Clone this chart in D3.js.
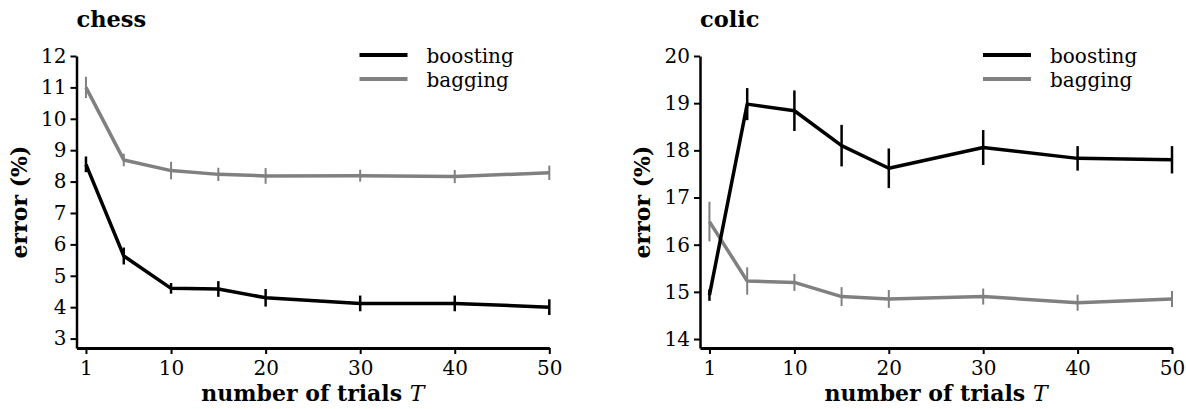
<!DOCTYPE html>
<html>
<head>
<meta charset="utf-8">
<script src="https://cdn.jsdelivr.net/npm/d3@7"></script>
<style>
  body { margin: 0; background: #fff; }
  svg { display: block; }
  text { font-family: 'DejaVu Serif', serif; fill: #000; }
  .domain, .tick line { stroke: #000; }
</style>
</head>
<body>
<script>
// data
const trials = [1, 5, 10, 15, 20, 30, 40, 50];
const xTicks = [1, 10, 20, 30, 40, 50];

const chessBoosting = [8.55, 5.63, 4.60, 4.58, 4.30, 4.12, 4.12, 4.00];
const chessBoostingErr = [0.25, 0.27, 0.17, 0.25, 0.28, 0.25, 0.25, 0.25];
const chessBagging = [11.0, 8.69, 8.35, 8.23, 8.18, 8.19, 8.16, 8.28];
const chessBaggingErr = [0.34, 0.2, 0.28, 0.21, 0.25, 0.19, 0.21, 0.23];
const chessYTicks = [3, 4, 5, 6, 7, 8, 9, 10, 11, 12];

const colicBoosting = [14.93, 18.98, 18.84, 18.10, 17.62, 18.06, 17.83, 17.80];
const colicBoostingErr = [0.12, 0.34, 0.43, 0.44, 0.42, 0.37, 0.26, 0.29];
const colicBagging = [16.49, 15.23, 15.20, 14.90, 14.85, 14.90, 14.77, 14.85];
const colicBaggingErr = [0.42, 0.29, 0.18, 0.2, 0.19, 0.17, 0.17, 0.17];
const colicYTicks = [14, 15, 16, 17, 18, 19, 20];

const seriesNames = ["boosting", "bagging"];
const seriesColors = ["#000000", "#808080"];

const width = 1186;
const height = 409;
const marginTop = 56;
const plotBottom = 348;
const serif = "'DejaVu Serif', serif";

const svg = d3.select("body")
  .append("svg")
  .attr("width", width)
  .attr("height", height);

const panels = [
  { title: "chess", left: 76.5, right: 549.3, yMin: 2.7, yMax: 12, yTicks: chessYTicks,
    series: [[chessBoosting, chessBoostingErr], [chessBagging, chessBaggingErr]] },
  { title: "colic", left: 700, right: 1172, yMin: 13.81, yMax: 20, yTicks: colicYTicks,
    series: [[colicBoosting, colicBoostingErr], [colicBagging, colicBaggingErr]] }
];

panels.forEach(function(p) {
  const g = svg.append("g");
  const x = d3.scaleLinear().domain([0, 50]).range([p.left, p.right]);
  const y = d3.scaleLinear().domain([p.yMin, p.yMax]).range([plotBottom, marginTop]);

  // axes
  const xAxis = d3.axisBottom(x).tickValues(xTicks).tickFormat(d3.format("d"))
    .tickSize(6).tickSizeOuter(0).tickPadding(4);
  const gx = g.append("g")
    .attr("transform", `translate(0, ${plotBottom})`)
    .call(xAxis)
    .attr("font-family", serif)
    .attr("font-size", 20);
  gx.select(".domain").attr("stroke-width", 3);
  gx.selectAll(".tick line").attr("stroke-width", 2);
  gx.selectAll(".tick text").attr("dy", "0.85em");

  const yAxis = d3.axisLeft(y).tickValues(p.yTicks).tickFormat(d3.format("d"))
    .tickSize(6).tickSizeOuter(0).tickPadding(4);
  const gy = g.append("g")
    .attr("transform", `translate(${p.left}, 0)`)
    .call(yAxis)
    .attr("font-family", serif)
    .attr("font-size", 20);
  gy.select(".domain").attr("stroke-width", 2.5);
  gy.selectAll(".tick line").attr("stroke-width", 2);

  // lines and error bars, gray drawn first
  const line = d3.line()
    .x(function(d) { return x(d.t); })
    .y(function(d) { return y(d.v); });

  [1, 0].forEach(function(si) {
    const vals = p.series[si][0];
    const errs = p.series[si][1];
    const pts = trials.map(function(t, i) { return { t: t, v: vals[i], e: errs[i] }; });
    g.append("path")
      .datum(pts)
      .attr("fill", "none")
      .attr("stroke", seriesColors[si])
      .attr("stroke-width", 3.5)
      .attr("stroke-linejoin", "round")
      .attr("d", line);
    g.selectAll(null)
      .data(pts)
      .enter()
      .append("line")
      .attr("x1", function(d) { return x(d.t); })
      .attr("x2", function(d) { return x(d.t); })
      .attr("y1", function(d) { return y(d.v - d.e); })
      .attr("y2", function(d) { return y(d.v + d.e); })
      .attr("stroke", seriesColors[si])
      .attr("stroke-width", si === 0 ? 2.5 : 2);
  });

  // title
  g.append("text")
    .attr("x", p.left)
    .attr("y", 27)
    .attr("font-weight", "bold")
    .attr("font-size", 22.5)
    .text(p.title);

  // axis labels
  const xl = g.append("text")
    .attr("x", (p.left + p.right) / 2)
    .attr("y", 401)
    .attr("text-anchor", "middle")
    .attr("font-weight", "bold")
    .attr("font-size", 22);
  xl.append("tspan").text("number of trials ");
  xl.append("tspan").attr("font-style", "italic").attr("font-weight", "normal").text("T");

  g.append("text")
    .attr("transform", `translate(${p.left - 50}, ${(marginTop + plotBottom) / 2}) rotate(-90)`)
    .attr("text-anchor", "middle")
    .attr("font-weight", "bold")
    .attr("font-size", 22)
    .text("error (%)");

  // legend
  const legend = g.append("g")
    .attr("transform", `translate(${p.left}, 0)`);
  seriesNames.forEach(function(name, i) {
    const ly = 55 + i * 24;
    legend.append("line")
      .attr("x1", 283).attr("x2", 331)
      .attr("y1", ly).attr("y2", ly)
      .attr("stroke", seriesColors[i])
      .attr("stroke-width", 4);
    legend.append("text")
      .attr("x", 350)
      .attr("y", ly + 7.5)
      .attr("font-size", 20)
      .text(name);
  });
});
</script>
</body>
</html>
